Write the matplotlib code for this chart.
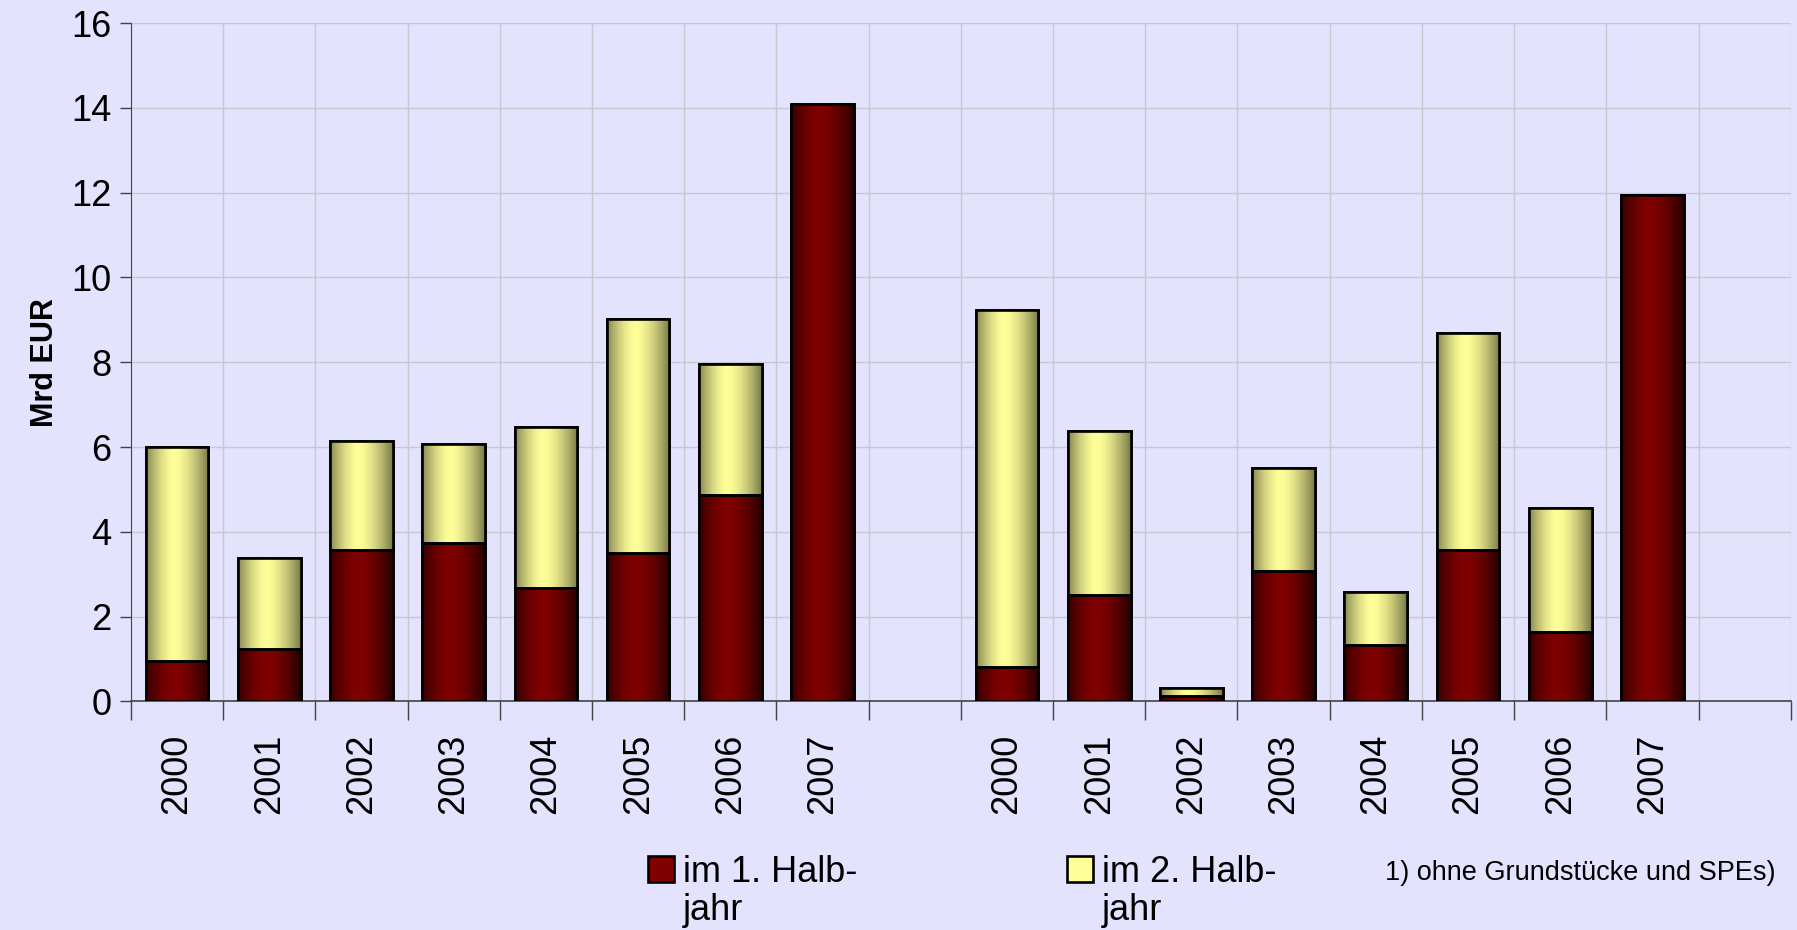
import numpy as np
import matplotlib
matplotlib.use('Agg')
import matplotlib.pyplot as plt
from matplotlib.patches import Patch

# data (Mrd EUR), two blocks of years separated by an empty slot
years = ['2000', '2001', '2002', '2003', '2004', '2005', '2006', '2007']
block1_h1 = [0.96, 1.24, 3.58, 3.73, 2.68, 3.50, 4.87, 14.08]
block1_total = [6.01, 3.39, 6.15, 6.08, 6.48, 9.03, 7.95, 14.08]
block2_h1 = [0.81, 2.51, 0.14, 3.07, 1.33, 3.57, 1.64, 11.95]
block2_total = [9.24, 6.38, 0.31, 5.51, 2.58, 8.70, 4.56, 11.95]

labels = years + [''] + years + ['']
h1 = np.array(block1_h1 + [0] + block2_h1 + [0])
h2 = np.array(block1_total + [0] + block2_total + [0]) - h1

bg = '#E3E3FD'
narrow = ['Liberation Sans Narrow', 'Liberation Sans', 'DejaVu Sans']
plt.rcParams['font.family'] = ['Liberation Sans', 'DejaVu Sans']

fig = plt.figure(figsize=(17.97, 9.30), dpi=100, facecolor=bg)
ax = fig.add_axes([0.0729, 0.2457, 0.9236, 0.7295], facecolor=bg)

x = np.arange(len(labels)) + 0.5
has = np.array([l != '' for l in labels])
w = 0.68
lw = 1.9
b1 = ax.bar(x[has], h1[has], w, color='#800000', edgecolor='black', linewidth=lw, zorder=3)
b2 = ax.bar(x[has], h2[has], w, bottom=h1[has], color='#FFFF99', edgecolor='black',
            linewidth=lw, zorder=3)


def shade(center, edge_l, edge_r, n=64):
    t = np.linspace(0, 1, n)
    c = np.array(center) / 255.0
    el = np.array(edge_l) / 255.0
    er = np.array(edge_r) / 255.0
    out = np.zeros((1, n, 3))
    for i, v in enumerate(t):
        if v < 0.45:
            a = (1 - v / 0.45) ** 1.6
            out[0, i] = c * (1 - a) + el * a
        else:
            a = ((v - 0.45) / 0.55) ** 1.6
            out[0, i] = c * (1 - a) + er * a
    return out


red_img = shade((0x80, 0, 0), (0x38, 0, 0), (0x28, 0, 0))
yel_img = shade((0xFF, 0xFF, 0x99), (0x88, 0x88, 0x55), (0x7A, 0x7A, 0x4A))
for bars, img in ((b1, red_img), (b2, yel_img)):
    for p in bars:
        if p.get_height() <= 0:
            continue
        x0, y0 = p.get_x(), p.get_y()
        im = ax.imshow(img, extent=[x0, x0 + p.get_width(), y0, y0 + p.get_height()],
                       aspect='auto', zorder=3.5, interpolation='bilinear')
        im.set_clip_path(p)
        # outline again on top of the shading
        ax.add_patch(plt.Rectangle((x0, y0), p.get_width(), p.get_height(), fill=False,
                                   edgecolor='black', linewidth=lw, zorder=4))

ax.set_xlim(0, len(labels))
ax.set_ylim(0, 16)
ax.set_yticks(np.arange(0, 17, 2))
ax.set_xticks(x)
ax.set_xticklabels(labels, rotation=90, fontsize=26)
ax.set_xticks(np.arange(0, len(labels) + 1), minor=True)
ax.tick_params(axis='x', which='major', length=0, pad=23)
ax.tick_params(axis='x', which='minor', length=14, width=1, color='#444444')
ax.tick_params(axis='y', length=8, width=1, color='#444444', pad=6)
for t in ax.get_yticklabels():
    t.set_fontsize(26)
    t.set_family(narrow)

ax.grid(True, which='minor', axis='x', color='#C8C8D0', linewidth=1, zorder=0)
ax.grid(True, which='major', axis='y', color='#C8C8D0', linewidth=1, zorder=0)
for s in ['top', 'right']:
    ax.spines[s].set_visible(False)
ax.spines['left'].set_color('#444444')
ax.spines['bottom'].set_color('#444444')
ax.spines['bottom'].set_linewidth(1.2)

ax.set_ylabel('Mrd EUR', fontsize=22, fontweight='bold', labelpad=8)

handles = [Patch(facecolor='#800000', edgecolor='black', linewidth=lw),
           Patch(facecolor='#FFFF99', edgecolor='black', linewidth=lw)]
leg = fig.legend(handles, ['im 1. Halb-', 'im 2. Halb-'], ncol=2,
                 loc='upper left', bbox_to_anchor=(0.3605, 0.081), frameon=False,
                 handlelength=0.72, handleheight=0.75, handletextpad=0.25,
                 columnspacing=5.8, borderaxespad=0, borderpad=0,
                 prop={'family': narrow, 'size': 26})

# second line of each legend label
fig.canvas.draw()
inv = fig.transFigure.inverted()
for t in leg.get_texts():
    bb = t.get_window_extent()
    x0, y0 = inv.transform((bb.x0, bb.y0))
    fig.text(x0, y0 - 0.004, 'jahr', ha='left', va='top', fontsize=26, family=narrow)

fig.text(0.988, 0.061, '1) ohne Grundstücke und SPEs)', ha='right', va='center',
         fontsize=19.5, family=narrow)

fig.savefig('out.png', dpi=100, facecolor=bg)
